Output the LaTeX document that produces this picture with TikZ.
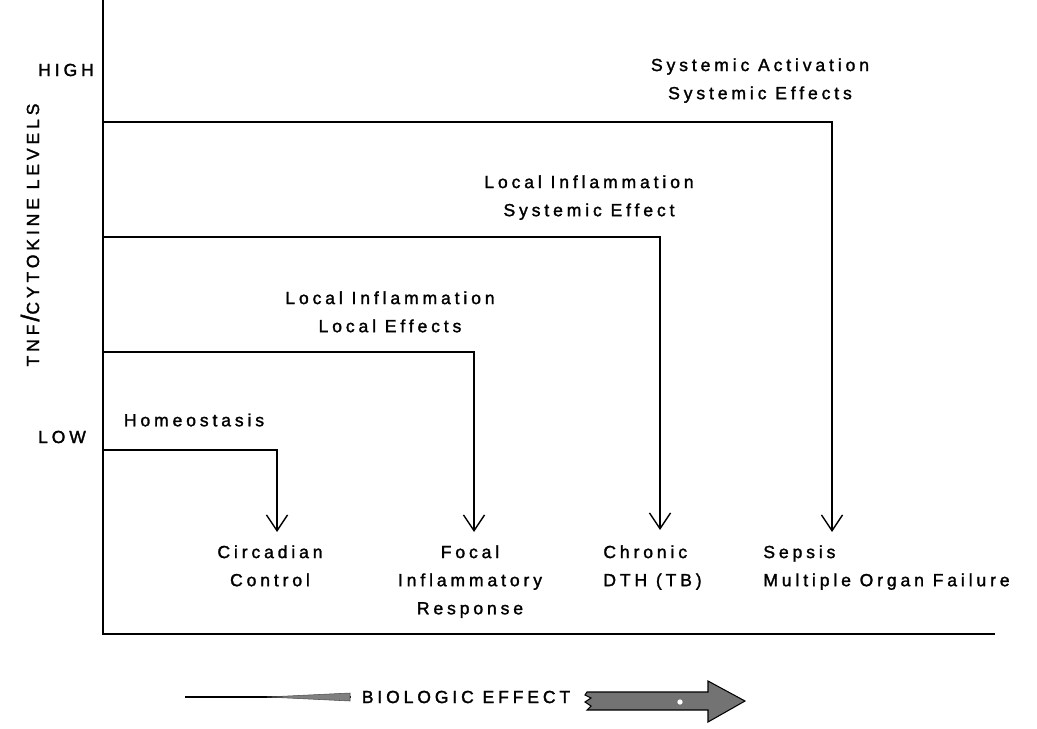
\documentclass[tikz,border=0pt]{standalone}
\usepackage{fontspec}
\newfontfamily\scanfont[LetterSpace=22,FakeBold=1.6]{Liberation Sans}
\usetikzlibrary{arrows.meta}
\tikzset{
  lbl/.style={font=\scanfont\fontsize{10}{16}\selectfont,inner sep=0pt,align=center},
  level/.style={line width=.8pt},
  down/.style={level,-{Straight Barb[length=9pt,width=12pt,line width=.8pt]}},
}

\begin{document}
\begin{tikzpicture}[x=.02cm,y=-.02cm]
  \useasboundingbox (0,0) rectangle (1037,729);
  % axes
  \coordinate (top) at (103,0);
  \coordinate (O) at (103,634);
  \coordinate (xend) at (995,634);
  \draw[level] (top) -- (O) -- (xend);
  \node[lbl] (high) at (66,70) {HIGH};
  \node[lbl] (low) at (62,437) {LOW};
  \node[lbl,rotate=90] (ylab) at (30,235) {TNF\,{\Large/}CYTOKINE LEVELS};

  % levels
  \node[lbl,anchor=north] (sys) at (760,58) {Systemic Activation\\Systemic Effects};
  \node[lbl,anchor=north] (locsys) at (589,175) {Local Inflammation\\Systemic Effect};
  \node[lbl,anchor=north] (locloc) at (390,291) {Local Inflammation\\Local Effects};
  \node[lbl] (homeo) at (194,420) {Homeostasis};

  % outcomes
  \node[lbl,anchor=north] (circ) at (270,545) {Circadian\\Control};
  \node[lbl,anchor=north] (focal) at (470,545) {Focal\\Inflammatory\\Response};
  \node[lbl,anchor=north west,align=left] (chron) at (603,545) {Chronic\\DTH (TB)};
  \node[lbl,anchor=north west,align=left] (sepsis) at (763,545) {Sepsis\\Multiple Organ Failure};

  % steps from axis down to outcomes
  \coordinate (h-in) at (103,450);
  \coordinate (h-out) at (277,532);
  \coordinate (ll-in) at (103,352);
  \coordinate (ll-out) at (474,532);
  \coordinate (ls-in) at (103,237);
  \coordinate (ls-out) at (660,530);
  \coordinate (s-in) at (103,122);
  \coordinate (s-out) at (832,532);
  \draw[down] (h-in) -| (h-out);
  \draw[down] (ll-in) -| (ll-out);
  \draw[down] (ls-in) -| (ls-out);
  \draw[down] (s-in) -| (s-out);

  % biologic effect arrow
  \node[lbl] (bio) at (466,697) {BIOLOGIC EFFECT};
  \coordinate (tail) at (185,697);
  \draw[line width=1pt] (tail) -- ([xshift=-6pt]bio.west);
  \filldraw[fill=black!50,draw=black!70,line width=.3pt] (267,697) -- (350,693) -- (350,701) -- cycle;
  \filldraw[fill=black!55,draw=black,line width=.6pt]
    (587,692) -- (708,692) -- (708,681) -- (745,701) -- (708,722) -- (708,710)
    -- (587,710) -- (591,706) -- (585,702) -- (591,698) -- (585,695) -- cycle;
  \fill[white] (680,702) circle (1.5pt);
\end{tikzpicture}
\end{document}
